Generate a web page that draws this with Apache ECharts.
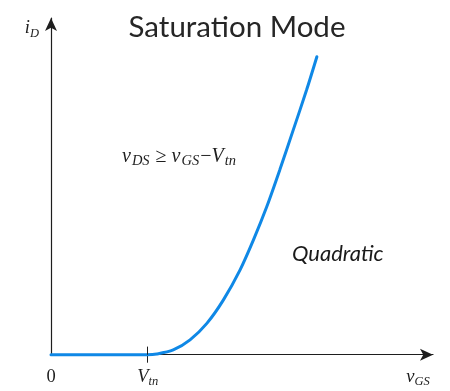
<!DOCTYPE html>
<html><head><meta charset="utf-8">
<script src="https://cdn.jsdelivr.net/npm/echarts@6/dist/echarts.min.js"></script>
<style>html,body{margin:0;padding:0;background:#fff}#c{width:450px;height:391px}</style>
</head><body><div id="c"></div>
<script>
// gate voltage (arbitrary units) and drain current (arbitrary units)
const vgs = [0, 0.76, 1.54, 2.07, 2.51, 2.77, 3.20, 3.64, 4.08, 4.51, 4.95, 5.30, 5.65, 5.99, 6.34, 6.69, 6.96];
const iD  = [0, 0, 0, 0, 0, 0.02, 0.14, 0.44, 0.93, 1.62, 2.52, 3.41, 4.40, 5.49, 6.67, 7.86, 8.85];
const vtn = 2.53;
const xTickValues = [0, 2.53, 9.61];
const xTickLabels = ['{n|0}', '{it|V}{sub|tn}', '{it|v}{sub|GS}'];
const titleText = 'Saturation Mode';
const yName = '{it|i}{sub|D}';
const conditionText = '{ai|v}{as|DS}{an| ≥ }{ai|v}{as|GS}{an|−}{ai|V}{as|tn}';
const regionText = 'Quadratic';

const SERIF = 'Liberation Serif';
const INK = '#1e1e1e';
const rich = {
  n:   {fontFamily: SERIF, fontSize: 18.5, color: INK, lineHeight: 24},
  it:  {fontFamily: SERIF, fontStyle: 'italic', fontSize: 18.5, color: INK, lineHeight: 24},
  sub: {fontFamily: SERIF, fontStyle: 'italic', fontSize: 12.5, color: INK, verticalAlign: 'bottom'},
  an:  {fontFamily: SERIF, fontSize: 20, color: INK, lineHeight: 24},
  ai:  {fontFamily: SERIF, fontStyle: 'italic', fontSize: 20, color: INK, lineHeight: 24},
  as:  {fontFamily: SERIF, fontStyle: 'italic', fontSize: 14.5, color: INK, verticalAlign: 'bottom', padding: [0, 1, 0, 1]}
};

const chart = echarts.init(document.getElementById('c'), null, {renderer: 'canvas'});
chart.setOption({
  animation: false,
  backgroundColor: '#fff',
  textStyle: {fontFamily: SERIF},
  title: {
    text: titleText, left: 237, top: 12, textAlign: 'center', padding: 0,
    textStyle: {fontFamily: 'Lato', fontWeight: 'normal', fontSize: 29.5, color: '#262626'}
  },
  grid: {left: 51, right: 17, top: 18, bottom: 36.3, containLabel: false},
  xAxis: {
    type: 'value', min: 0, max: 10,
    axisLine: {show: true, onZero: false, symbol: ['none', 'arrow'], symbolSize: [9, 13], lineStyle: {color: INK, width: 1.2}},
    axisTick: {show: true, customValues: [vtn], length: 8, lineStyle: {color: INK, width: 1}},
    axisLabel: {
      show: true, customValues: xTickValues, margin: 10, lineHeight: 24,
      fontFamily: SERIF, fontSize: 18.5, color: INK,
      formatter: function (v) {
        let best = 0;
        xTickValues.forEach(function (t, i) { if (Math.abs(t - v) < Math.abs(xTickValues[best] - v)) best = i; });
        return xTickLabels[best];
      },
      rich: rich
    },
    splitLine: {show: false}
  },
  yAxis: {
    type: 'value', min: 0, max: 10,
    name: yName, nameLocation: 'end', nameGap: -10,
    nameTextStyle: {align: 'right', verticalAlign: 'middle', padding: [0, 12, 0, 0], lineHeight: 24, fontFamily: SERIF, fontSize: 18.5, color: INK, rich: rich},
    axisLine: {show: true, onZero: false, symbol: ['none', 'arrow'], symbolSize: [9, 13], lineStyle: {color: INK, width: 1.2}},
    axisTick: {show: false},
    axisLabel: {show: false},
    splitLine: {show: false}
  },
  graphic: [
    {type: 'text', x: 122, y: 157, style: {text: conditionText, rich: rich, fontFamily: SERIF, fontSize: 20, align: 'left', verticalAlign: 'middle', fill: INK}},
    {type: 'text', x: 292, y: 254, style: {text: regionText, fontFamily: 'Lato', fontStyle: 'italic', fontSize: 22, fill: '#1a1a1a', align: 'left', verticalAlign: 'middle'}}
  ],
  series: [{
    type: 'line',
    data: vgs.map(function (x, i) { return [x, iD[i]]; }),
    showSymbol: false, smooth: 0.3, clip: false,
    lineStyle: {color: '#0f88e6', width: 3, cap: 'round'},
    z: 3,
    markLine: {
      silent: true, symbol: ['none', 'none'], label: {show: false},
      lineStyle: {color: INK, type: 'solid', width: 1},
      data: [[{coord: [vtn, 0]}, {coord: [vtn, 0.24]}]]
    }
  }]
});
</script>
</body></html>
